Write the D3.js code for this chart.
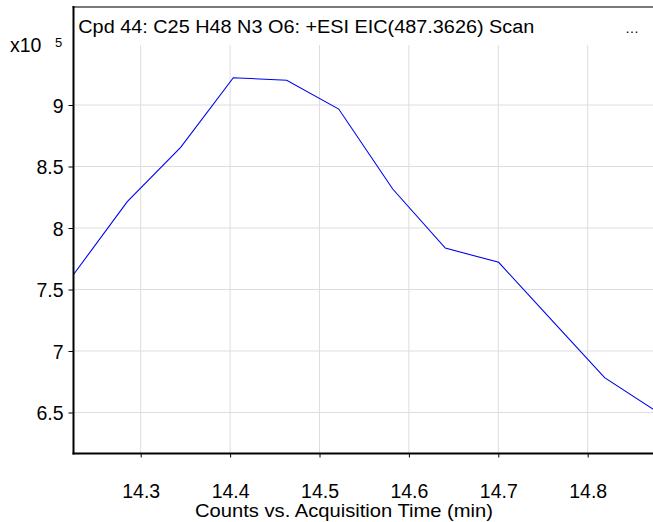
<!DOCTYPE html>
<html>
<head>
<meta charset="utf-8">
<script src="https://cdn.jsdelivr.net/npm/d3@7"></script>
<style>
  html, body { margin: 0; padding: 0; background: #fff; }
  svg { display: block; font-family: "Liberation Sans", Arial, sans-serif; }
</style>
</head>
<body>
<svg id="chart" width="653" height="522"></svg>
<script>
// Data (acquisition time in min, counts in units of 1e5)
const times = [14.2253, 14.2850, 14.3447, 14.4036, 14.4633, 14.5215, 14.5819, 14.6407, 14.7004, 14.7600, 14.8189, 14.8780];
const counts = [7.626, 8.214, 8.656, 9.222, 9.201, 8.967, 8.317, 7.837, 7.721, 7.248, 6.783, 6.504];
const xTickValues = [14.3, 14.4, 14.5, 14.6, 14.7, 14.8];
const yTickValues = [6.5, 7, 7.5, 8, 8.5, 9];
const titleText = "Cpd 44: C25 H48 N3 O6: +ESI EIC(487.3626) Scan";
const xAxisTitle = "Counts vs. Acquisition Time (min)";
const yExponent = "5";

(function () {
const svg = d3.select("#chart");
const W = 653, H = 522;
const pLeft = 73.5, pRight = 653, pTop = 45, pBottom = 453.5, frameTop = 7;

// scales: 14.3 -> 140.7, 14.8 -> 587.7 ; 9 -> 105, 6.5 -> 412.5
const xPx = d3.scaleLinear().domain([14.3, 14.8]).range([140.7, 587.7]);
const yPx = d3.scaleLinear().domain([6.5, 9]).range([412.5, 105]);
const x = d3.scaleLinear().domain([xPx.invert(pLeft), xPx.invert(pRight)]).range([pLeft, pRight]);
const y = d3.scaleLinear().domain([yPx.invert(pBottom), yPx.invert(pTop)]).range([pBottom, pTop]);

// grid
const grid = svg.append("g");
grid.selectAll("line.v").data(xTickValues).join("line").attr("class", "v")
  .attr("x1", d => x(d)).attr("x2", d => x(d))
  .attr("y1", pTop).attr("y2", pBottom)
  .attr("stroke", "#dddddd").attr("stroke-width", 1);
grid.selectAll("line.h").data(yTickValues).join("line").attr("class", "h")
  .attr("x1", pLeft).attr("x2", pRight)
  .attr("y1", d => y(d)).attr("y2", d => y(d))
  .attr("stroke", "#dddddd").attr("stroke-width", 1);

// clip
svg.append("clipPath").attr("id", "clip").append("rect")
  .attr("x", pLeft).attr("y", pTop).attr("width", pRight - pLeft).attr("height", pBottom - pTop);

// line
const line = d3.line().x((d, i) => x(times[i])).y(d => y(d));
svg.append("path").datum(counts)
  .attr("clip-path", "url(#clip)")
  .attr("d", line)
  .attr("fill", "none").attr("stroke", "#0000ee").attr("stroke-width", 1.1);

// frame: top gray line
svg.append("line").attr("x1", pLeft - 1).attr("x2", W).attr("y1", frameTop).attr("y2", frameTop)
  .attr("stroke", "#7a7a7a").attr("stroke-width", 2);

// x axis
const xAxis = d3.axisBottom(x).tickValues(xTickValues).tickSize(4).tickFormat(d3.format(".1f"));
const gx = svg.append("g").attr("transform", `translate(0,${pBottom})`).call(xAxis);
gx.select(".domain").attr("stroke", "#000").attr("stroke-width", 2)
  .attr("d", `M${pLeft - 1},0H${W}`);
gx.selectAll(".tick line").attr("stroke", "#000").attr("stroke-width", 1);
gx.selectAll(".tick text").attr("fill", "#000").attr("font-size", "19.5px")
  .attr("font-family", "Liberation Sans, Arial, sans-serif")
  .attr("y", 44).attr("dy", null);

// y axis
const yAxis = d3.axisLeft(y).tickValues(yTickValues).tickSize(5).tickFormat(d => String(d));
const gy = svg.append("g").attr("transform", `translate(${pLeft},0)`).call(yAxis);
gy.select(".domain").attr("stroke", "#000").attr("stroke-width", 2)
  .attr("d", `M0,${frameTop - 1}V${pBottom + 1}`);
gy.selectAll(".tick line").attr("stroke", "#000").attr("stroke-width", 1);
gy.selectAll(".tick text").attr("fill", "#000").attr("font-size", "19.5px")
  .attr("font-family", "Liberation Sans, Arial, sans-serif")
  .attr("x", -10).attr("dy", "0.36em");

// title
svg.append("text").attr("x", 78.3).attr("y", 33.3)
  .attr("font-size", "17.6px").attr("fill", "#000")
  .attr("textLength", 456).attr("lengthAdjust", "spacingAndGlyphs")
  .text(titleText);
svg.append("text").attr("x", 625).attr("y", 33.3)
  .attr("font-size", "14px").attr("fill", "#000").text("…");

// exponent
svg.append("text").attr("x", 10).attr("y", 51.7)
  .attr("font-size", "19.5px").attr("fill", "#000").text("x10");
svg.append("text").attr("x", 55).attr("y", 46.7)
  .attr("font-size", "13px").attr("fill", "#000").text(yExponent);

// x axis title
svg.append("text").attr("x", 195).attr("y", 516.7)
  .attr("font-size", "18.6px").attr("fill", "#000")
  .attr("textLength", 298).attr("lengthAdjust", "spacingAndGlyphs")
  .text(xAxisTitle);
})();
</script>
</body>
</html>
